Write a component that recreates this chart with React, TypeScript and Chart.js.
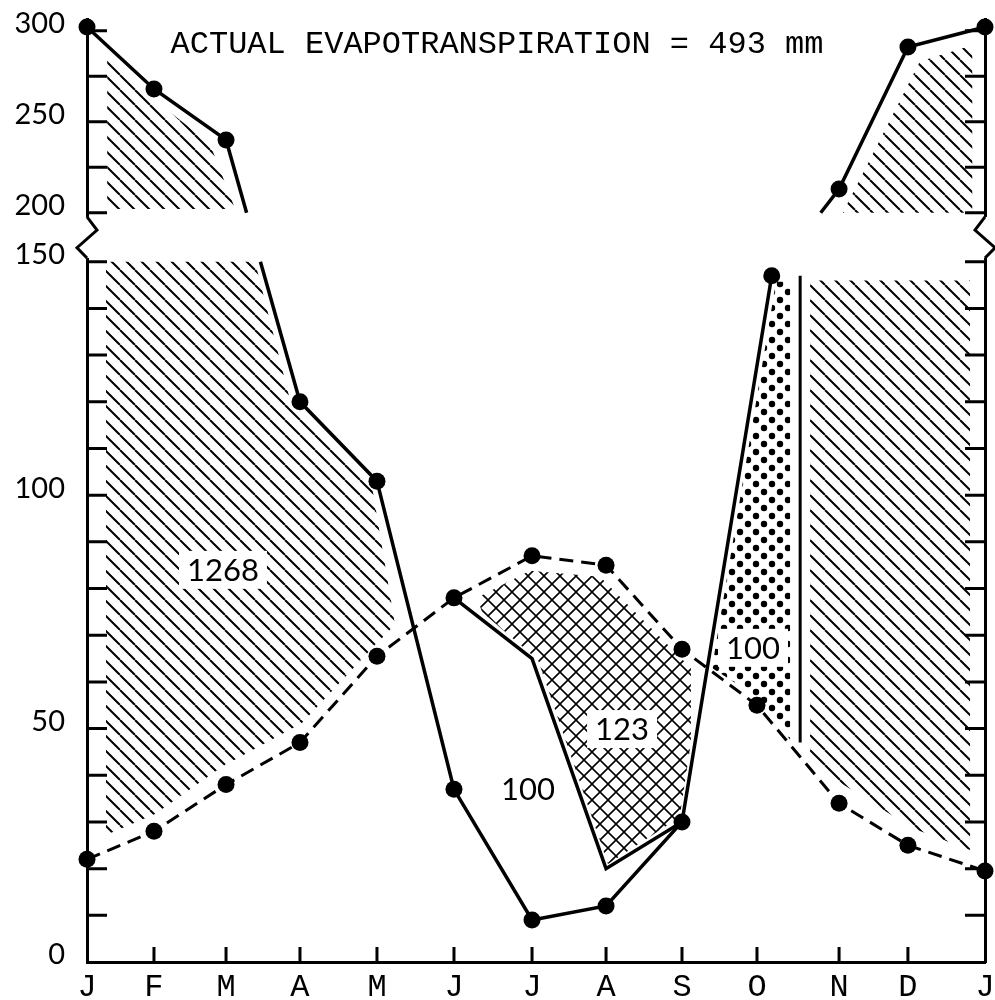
import React, { useEffect, useRef } from "react";
import { Chart, registerables } from "chart.js";

Chart.register(...registerables);

// ---------------- data ----------------
const monthLabels = ["J", "F", "M", "A", "M", "J", "J", "A", "S", "O", "N", "D", "J"];
// positions of the month ticks along the (hand-drawn) time axis, in month units
const monthPos = [0, 0.895, 1.858, 2.846, 3.875, 4.904, 5.947, 6.936, 7.951, 8.953, 10.05, 10.97, 12];

// potential evapotranspiration (dashed line), mm
const petValues = [22, 28, 38, 47, 65.5, 78, 87, 85, 67, 55, 34, 25, 19.5];

// precipitation (solid line), mm
const precipPos = [0, 0.895, 1.858, 2.846, 3.875, 4.904, 5.947, 6.936, 7.951, 9.15, 10.05, 10.97, 12];
const precipValues = [302, 268, 240, 120, 103, 37, 9, 12, 30, 147, 213, 291, 302];

// actual evapotranspiration limb in the dry season (Jun - Sep), mm
const aetPos = [4.904, 5.947, 6.936, 7.951];
const aetValues = [78, 65, 20, 30];

// end of soil-moisture recharge (vertical line)
const rechargeEndPos = 9.53;
const rechargeEndValues = [147, 47];

// y axis (mm)
const yTicksLower = [0, 10, 20, 30, 40, 50, 60, 70, 80, 90, 100, 110, 120, 130, 140, 150];
const yTicksUpper = [200, 225, 250, 275, 300];
const yLabelled = [0, 50, 100, 150, 200, 250, 300];

// shaded regions: [month, mm]
const surplusUpperLeft = [[0.27, 202], [0.27, 287], [0.84, 264], [1.64, 238], [1.98, 202]];
const surplusLowerLeft = [
  [0.254, 150], [2.245, 150], [2.713, 120.4], [3.809, 101.8], [4.116, 72.2],
  [3.849, 67.9], [2.873, 51.2], [1.804, 41.8], [0.909, 31.7], [0.254, 27.2],
];
const surplusUpperRight = [[10.1, 200], [11.13, 283], [11.83, 292], [11.83, 200]];
const surplusLowerRight = [[9.662, 146], [11.8, 146], [11.8, 24], [11.025, 28.7], [10.01, 39], [9.662, 44.4]];
const deficitRegion = [
  [5.212, 78], [5.92, 83.8], [6.856, 82.5], [8.07, 63], [8.07, 47],
  [7.92, 31], [6.962, 21], [6.027, 64.7], [5.279, 75],
];
const rechargeRegion = [[9.207, 145.7], [9.395, 145.7], [9.395, 47.6], [9.02, 56.1], [8.352, 63]];

// region labels
const regionLabels = [
  { text: "1268", x: 1.817, v: 84, box: true },
  { text: "123", x: 7.15, v: 49.9, box: true },
  { text: "100", x: 5.893, v: 37.1, box: false },
  { text: "100", x: 8.9, v: 67.3, box: true },
];

const titleText = "ACTUAL EVAPOTRANSPIRATION = 493 mm";

// ---------------- broken axis mapping ----------------
const BREAK_LOW = 150;
const BREAK_HIGH = 200;
const UPPER_BASE = 160.5;
const UPPER_K = 0.39;
const Y_MAX = 202;

function mmToDisplay(v: number): number {
  if (v <= BREAK_LOW) return v;
  if (v >= BREAK_HIGH) return UPPER_BASE + (v - BREAK_HIGH) * UPPER_K;
  return BREAK_LOW + ((v - BREAK_LOW) / (BREAK_HIGH - BREAK_LOW)) * (UPPER_BASE - BREAK_LOW);
}

const yTickMm = [...yTicksLower, ...yTicksUpper];

type Pt = { x: number; y: number | null; m: boolean };

// splits a series where it passes through the axis break
function buildBrokenSeries(xs: number[], vs: number[]): Pt[] {
  const out: Pt[] = [];
  for (let i = 0; i < xs.length; i++) {
    if (i > 0) {
      const va = vs[i - 1];
      const vb = vs[i];
      const aUp = va >= BREAK_HIGH;
      const bUp = vb >= BREAK_HIGH;
      const aLow = va <= BREAK_LOW;
      const bLow = vb <= BREAK_LOW;
      if ((aUp && bLow) || (aLow && bUp)) {
        const da = mmToDisplay(va);
        const db = mmToDisplay(vb);
        const at = (d: number) => xs[i - 1] + ((d - da) / (db - da)) * (xs[i] - xs[i - 1]);
        const lowVal = aUp ? vb : va;
        const drawLowStub = BREAK_LOW - lowVal > 5;
        if (aUp) {
          out.push({ x: at(UPPER_BASE), y: UPPER_BASE, m: false });
          out.push({ x: (at(UPPER_BASE) + at(BREAK_LOW)) / 2, y: null, m: false });
          if (drawLowStub) out.push({ x: at(BREAK_LOW), y: BREAK_LOW, m: false });
        } else {
          if (drawLowStub) out.push({ x: at(BREAK_LOW), y: BREAK_LOW, m: false });
          out.push({ x: (at(UPPER_BASE) + at(BREAK_LOW)) / 2, y: null, m: false });
          out.push({ x: at(UPPER_BASE), y: UPPER_BASE, m: false });
        }
      }
    }
    out.push({ x: xs[i], y: mmToDisplay(vs[i]), m: true });
  }
  return out;
}

// ---------------- patterns ----------------
function makeLinePattern(ctx: CanvasRenderingContext2D, s: number, w: number, cross: boolean) {
  const c = document.createElement("canvas");
  c.width = s;
  c.height = s;
  const g = c.getContext("2d")!;
  g.strokeStyle = "#000";
  g.lineWidth = w;
  g.beginPath();
  for (const o of [-s, 0, s]) {
    g.moveTo(o, 0);
    g.lineTo(o + s, s);
  }
  if (cross) {
    for (const o of [-s, 0, s]) {
      g.moveTo(o, s);
      g.lineTo(o + s, 0);
    }
  }
  g.stroke();
  return ctx.createPattern(c, "repeat")!;
}

function makeDotPattern(ctx: CanvasRenderingContext2D, s: number, r: number) {
  const c = document.createElement("canvas");
  c.width = s;
  c.height = s;
  const g = c.getContext("2d")!;
  g.fillStyle = "#000";
  for (const [px, py] of [[s / 4, s / 4], [(3 * s) / 4, (3 * s) / 4]]) {
    g.beginPath();
    g.arc(px, py, r, 0, Math.PI * 2);
    g.fill();
  }
  return ctx.createPattern(c, "repeat")!;
}

export default function App() {
  const ref = useRef<HTMLCanvasElement>(null);

  useEffect(() => {
    document.body.style.margin = "0";
    const canvas = ref.current!;
    const ctx2 = canvas.getContext("2d")!;
    const hatch = makeLinePattern(ctx2, 15, 2, false);
    const cross = makeLinePattern(ctx2, 16, 1.6, true);
    const dots = makeDotPattern(ctx2, 16, 3.2);

    const regions: { poly: number[][]; fill: CanvasPattern }[] = [
      { poly: surplusUpperLeft, fill: hatch },
      { poly: surplusLowerLeft, fill: hatch },
      { poly: surplusUpperRight, fill: hatch },
      { poly: surplusLowerRight, fill: hatch },
      { poly: deficitRegion, fill: cross },
      { poly: rechargeRegion, fill: dots },
    ];

    const decorPlugin = {
      id: "decor",
      beforeDatasetsDraw(chart: any) {
        const { ctx, chartArea } = chart;
        const xs = chart.scales.x;
        const ys = chart.scales.y;
        const P = (p: number[]) => [xs.getPixelForValue(p[0]), ys.getPixelForValue(mmToDisplay(p[1]))];
        ctx.save();
        // shaded regions
        for (const r of regions) {
          ctx.beginPath();
          r.poly.forEach((p, i) => {
            const [px, py] = P(p);
            if (i === 0) ctx.moveTo(px, py);
            else ctx.lineTo(px, py);
          });
          ctx.closePath();
          ctx.fillStyle = r.fill;
          ctx.fill();
        }
        // region labels
        ctx.font = '31px "Lato"';
        ctx.textAlign = "center";
        ctx.textBaseline = "middle";
        for (const l of regionLabels) {
          const [px, py] = P([l.x, l.v]);
          const w = ctx.measureText(l.text).width;
          if (l.box) {
            ctx.fillStyle = "#fff";
            ctx.fillRect(px - w / 2 - 8, py - 19, w + 16, 38);
          }
          ctx.fillStyle = "#000";
          ctx.fillText(l.text, px, py + 1);
        }
        // tick marks pointing inwards
        ctx.strokeStyle = "#000";
        ctx.lineWidth = 3;
        ctx.beginPath();
        ys.ticks.forEach((t: any) => {
          if (t.value <= 0) return;
          const py = ys.getPixelForValue(t.value);
          ctx.moveTo(chartArea.left, py);
          ctx.lineTo(chartArea.left + 20, py);
          ctx.moveTo(chartArea.right, py);
          ctx.lineTo(chartArea.right - 20, py);
        });
        xs.ticks.forEach((t: any) => {
          if (t.value <= 0 || t.value >= 12) return;
          const px = xs.getPixelForValue(t.value);
          ctx.moveTo(px, chartArea.bottom);
          ctx.lineTo(px, chartArea.bottom - 15);
        });
        ctx.stroke();
        // title
        ctx.font = '32px "Liberation Mono"';
        ctx.fillStyle = "#000";
        ctx.textAlign = "center";
        ctx.textBaseline = "middle";
        ctx.fillText(titleText, 497, 45);
        ctx.restore();
      },
      afterDraw(chart: any) {
        const { ctx, chartArea } = chart;
        const ys = chart.scales.y;
        const yA = ys.getPixelForValue(159.6);
        const yB = ys.getPixelForValue(156.8);
        const yC = ys.getPixelForValue(153);
        const yD = ys.getPixelForValue(150.8);
        ctx.save();
        for (const [x0, dir] of [[chartArea.left, 1], [chartArea.right, -1]]) {
          ctx.fillStyle = "#fff";
          ctx.fillRect(x0 - 4, yA, 8, yD - yA);
          ctx.strokeStyle = "#000";
          ctx.lineWidth = 3;
          ctx.lineJoin = "miter";
          ctx.beginPath();
          ctx.moveTo(x0, yA);
          ctx.lineTo(x0 + 10 * dir, yB);
          ctx.lineTo(x0 - 10 * dir, yC);
          ctx.lineTo(x0, yD);
          ctx.stroke();
        }
        ctx.restore();
      },
    };

    const markerRadius = (c: any) => (c.raw && c.raw.m ? 8.5 : 0);

    const chart = new Chart(canvas, {
      type: "line",
      data: {
        datasets: [
          {
            label: "Potential evapotranspiration",
            data: monthPos.map((x, i) => ({ x, y: petValues[i], m: true })),
            borderColor: "#000",
            borderWidth: 3,
            borderDash: [14, 8],
            pointRadius: markerRadius,
            pointBackgroundColor: "#000",
            pointBorderWidth: 0,
            tension: 0,
            fill: false,
            clip: false,
          } as any,
          {
            label: "Precipitation",
            data: buildBrokenSeries(precipPos, precipValues),
            borderColor: "#000",
            borderWidth: 3.5,
            pointRadius: markerRadius,
            pointBackgroundColor: "#000",
            pointBorderWidth: 0,
            tension: 0,
            spanGaps: false,
            fill: false,
            clip: false,
          } as any,
          {
            label: "Actual evapotranspiration",
            data: aetPos.map((x, i) => ({ x, y: aetValues[i], m: false })),
            borderColor: "#000",
            borderWidth: 3.5,
            pointRadius: 0,
            tension: 0,
            fill: false,
            clip: false,
          } as any,
          {
            label: "Recharge end",
            data: rechargeEndValues.map((v) => ({ x: rechargeEndPos, y: v, m: false })),
            borderColor: "#000",
            borderWidth: 3,
            pointRadius: 0,
            tension: 0,
            fill: false,
            clip: false,
          } as any,
        ],
      },
      options: {
        animation: false,
        responsive: false,
        devicePixelRatio: 1,
        events: [],
        layout: { padding: { top: 19, left: 0, right: 0, bottom: 0 } },
        plugins: { legend: { display: false }, tooltip: { enabled: false }, title: { display: false } },
        scales: {
          x: {
            type: "linear",
            min: 0,
            max: 12,
            afterBuildTicks: (s: any) => {
              s.ticks = monthPos.map((v) => ({ value: v }));
            },
            afterFit: (s: any) => {
              s.height = 38;
              s.paddingLeft = 0;
              s.paddingRight = 0;
            },
            grid: { display: false, drawTicks: false },
            border: { display: true, color: "#000", width: 3 },
            ticks: {
              autoSkip: false,
              maxRotation: 0,
              padding: 6,
              color: "#000",
              font: { family: "Liberation Mono", size: 32 },
              callback: (_v: any, i: number) => monthLabels[i],
            },
          },
          y: {
            type: "linear",
            position: "left",
            min: 0,
            max: Y_MAX,
            afterBuildTicks: (s: any) => {
              s.ticks = yTickMm.map((v) => ({ value: mmToDisplay(v) }));
            },
            afterFit: (s: any) => {
              s.width = 87;
              s.paddingTop = 0;
              s.paddingBottom = 0;
            },
            grid: { display: false, drawTicks: false },
            border: { display: true, color: "#000", width: 3 },
            ticks: {
              autoSkip: false,
              padding: 22,
              labelOffset: -7,
              color: "#000",
              font: { family: "Lato", size: 29 },
              callback: (_v: any, i: number) => (yLabelled.includes(yTickMm[i]) ? String(yTickMm[i]) : ""),
            },
          },
          y2: {
            type: "linear",
            position: "right",
            display: true,
            min: 0,
            max: Y_MAX,
            afterFit: (s: any) => {
              s.width = 10;
              s.paddingTop = 0;
              s.paddingBottom = 0;
            },
            grid: { display: false, drawTicks: false },
            border: { display: true, color: "#000", width: 3 },
            ticks: { display: false },
          },
        },
      } as any,
      plugins: [decorPlugin],
    });

    return () => chart.destroy();
  }, []);

  return (
    <div style={{ width: 995, height: 1000 }}>
      <canvas ref={ref} width={995} height={1000} style={{ display: "block" }} />
    </div>
  );
}
